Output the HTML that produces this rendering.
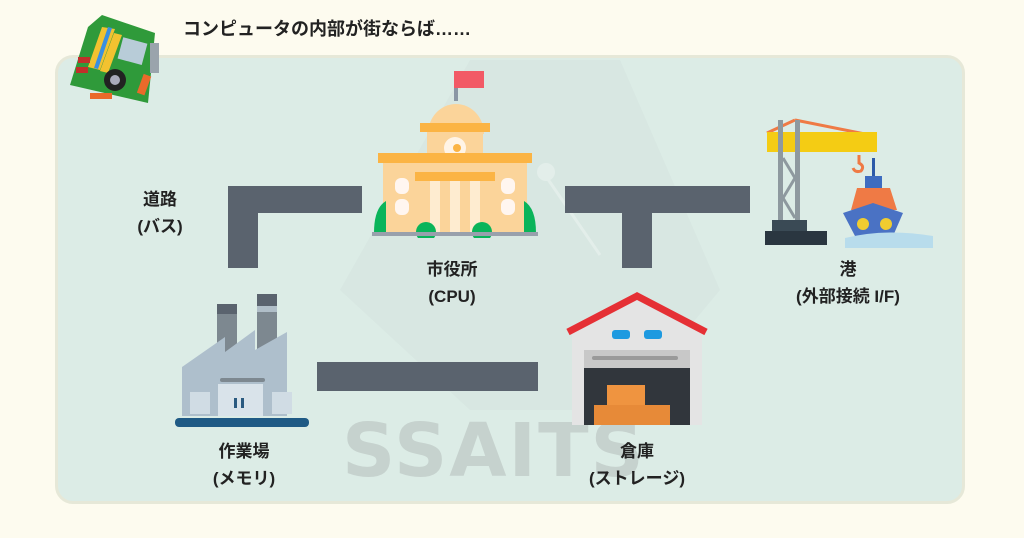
<!DOCTYPE html>
<html><head><meta charset="utf-8"><style>
body{margin:0;width:1024px;height:538px;background:#fdfbef;position:relative;overflow:hidden;font-family:"Liberation Sans","Noto Sans CJK JP",sans-serif}
.panel{position:absolute;left:55px;top:55px;width:910px;height:449px;background:#dcece6;border:3px solid #e6e8d8;border-radius:18px;box-sizing:border-box}
.r{position:absolute;background:#5a636e}
.t{position:absolute;font-weight:bold;font-size:17px;color:#222;text-align:center;line-height:27px;white-space:nowrap}
.wm{position:absolute;left:342px;top:408px;font-size:74px;color:#c6d2ce;letter-spacing:2px;font-family:"DejaVu Sans",sans-serif;font-weight:bold}
</style></head><body>
<div class="panel"></div>
<svg style="position:absolute;left:0;top:0" width="1024" height="538">
<polygon points="470,60 620,60 720,290 620,410 470,410 340,290" fill="#d3e3de" opacity="0.45"/>
<line x1="545" y1="175" x2="600" y2="255" stroke="#e3eeea" stroke-width="3"/>
<circle cx="546" cy="172" r="9" fill="#e3eeea"/>
</svg>
<div class="wm">SSAITS</div>
<div class="t" style="left:183px;top:16px;text-align:left;font-size:18px">コンピュータの内部が街ならば……</div>
<!-- motherboard -->
<svg style="position:absolute;left:70px;top:15px" width="100" height="90" viewBox="0 0 100 90">
<polygon points="32,0 85,18 78,88 0,70 18,12" fill="#2f9a3a"/>
<polygon points="32,12 45,14 30,55 18,52" fill="#f2c230"/>
<polygon points="38,12 42,13 28,54 24,53" fill="#3a8fe0"/>
<polygon points="44,18 52,20 38,58 30,56" fill="#f2c230"/>
<rect x="50" y="25" width="25" height="22" fill="#b8ccd8" transform="rotate(15 62 36)"/>
<circle cx="45" cy="65" r="11" fill="#222"/><circle cx="45" cy="65" r="5" fill="#aab"/>
<rect x="70" y="60" width="8" height="20" fill="#ea6a2a" transform="rotate(20 75 70)"/>
<rect x="20" y="78" width="22" height="6" fill="#ea6a2a"/>
<rect x="80" y="28" width="9" height="30" fill="#9aa4ac"/>
<rect x="8" y="42" width="12" height="6" fill="#c0302a"/><rect x="6" y="52" width="12" height="6" fill="#c0302a"/>
</svg>
<!-- roads -->
<div class="r" style="left:228px;top:186px;width:134px;height:27px"></div>
<div class="r" style="left:228px;top:186px;width:30px;height:82px"></div>
<div class="r" style="left:565px;top:186px;width:185px;height:27px"></div>
<div class="r" style="left:622px;top:186px;width:30px;height:82px"></div>
<div class="r" style="left:317px;top:362px;width:221px;height:29px"></div>
<!-- city hall -->
<svg style="position:absolute;left:370px;top:68px" width="170" height="170" viewBox="0 0 170 170">
<rect x="84" y="8" width="4" height="25" fill="#8a96a4"/>
<rect x="84" y="3" width="30" height="17" fill="#f25a66"/>
<path d="M58,66 A28,30 0 0 1 114,66 Z" fill="#fbd49a"/>
<rect x="57" y="63" width="56" height="32" fill="#fbd49a"/>
<rect x="50" y="55" width="70" height="9" fill="#fbb444"/>
<circle cx="85" cy="80" r="11" fill="#fff4e6"/><circle cx="87" cy="80" r="4" fill="#fbb444"/>
<rect x="8" y="85" width="154" height="10" fill="#fbb444"/>
<rect x="13" y="95" width="144" height="70" fill="#fbd49a"/>
<rect x="45" y="104" width="80" height="9" fill="#fbb444"/>
<rect x="60" y="113" width="10" height="52" fill="#feecd0"/><rect x="80" y="113" width="10" height="52" fill="#feecd0"/><rect x="100" y="113" width="10" height="52" fill="#feecd0"/>
<rect x="25" y="110" width="14" height="16" rx="6" fill="#fff6f0"/><rect x="25" y="131" width="14" height="16" rx="6" fill="#fff6f0"/>
<rect x="131" y="110" width="14" height="16" rx="6" fill="#fff6f0"/><rect x="131" y="131" width="14" height="16" rx="6" fill="#fff6f0"/>
<path d="M4,165 Q4,140 16,133 L16,165Z" fill="#0ab45a"/><path d="M166,165 Q166,140 154,133 L154,165Z" fill="#0ab45a"/>
<circle cx="56" cy="164" r="10" fill="#0ab45a"/><circle cx="112" cy="164" r="10" fill="#0ab45a"/>
<rect x="2" y="164" width="166" height="4" fill="#98a0ac"/>
</svg>
<!-- port -->
<svg style="position:absolute;left:765px;top:118px" width="170" height="130" viewBox="0 0 170 130">
<line x1="2" y1="15" x2="30" y2="2" stroke="#ef7a45" stroke-width="3"/><line x1="30" y1="2" x2="110" y2="18" stroke="#ef7a45" stroke-width="3"/>
<rect x="2" y="14" width="110" height="20" fill="#f4cc14"/>
<rect x="13" y="2" width="5" height="110" fill="#8e999f"/><rect x="30" y="2" width="5" height="110" fill="#8e999f"/>
<path d="M18,40 L30,60 L18,80 L30,100" stroke="#8e999f" stroke-width="3" fill="none"/>
<rect x="7" y="102" width="35" height="12" fill="#3a4a55"/><rect x="0" y="113" width="62" height="14" fill="#2a3640"/>
<path d="M94,37 L94,45 Q100,48 96,53 Q90,55 88,50" stroke="#ef7a45" stroke-width="3" fill="none"/>
<rect x="107" y="40" width="3" height="20" fill="#2c5aa8"/>
<rect x="100" y="58" width="17" height="12" fill="#3d6cc0"/>
<polygon points="92,70 125,70 132,92 86,92" fill="#ef7a45"/>
<polygon points="78,95 108,85 138,95 128,118 90,118" fill="#4a72c4"/>
<circle cx="98" cy="106" r="6" fill="#f0cc30"/><circle cx="121" cy="106" r="6" fill="#f0cc30"/>
<path d="M80,120 Q120,110 168,118 L168,130 L80,130Z" fill="#b8dcec"/>
</svg>
<!-- factory -->
<svg style="position:absolute;left:175px;top:292px" width="135" height="140" viewBox="0 0 135 140">
<rect x="42" y="12" width="20" height="60" fill="#7d8890"/><rect x="42" y="12" width="20" height="10" fill="#5a636e"/>
<rect x="82" y="2" width="20" height="70" fill="#7d8890"/><rect x="82" y="2" width="20" height="12" fill="#5a636e"/><rect x="82" y="14" width="20" height="6" fill="#b0bec8"/>
<polygon points="7,75 50,45 50,60 80,38 80,58 112,40 112,124 7,124" fill="#aebfcc"/>
<rect x="43" y="92" width="45" height="32" fill="#d9e3ea"/>
<rect x="15" y="100" width="20" height="22" fill="#d0dce4"/><rect x="97" y="100" width="20" height="22" fill="#d0dce4"/>
<rect x="45" y="86" width="45" height="4" rx="2" fill="#7d8890"/>
<rect x="59" y="106" width="3" height="10" fill="#2a5a80"/><rect x="66" y="106" width="3" height="10" fill="#2a5a80"/>
<rect x="0" y="126" width="134" height="9" rx="4" fill="#1f5a85"/>
</svg>
<!-- warehouse -->
<svg style="position:absolute;left:562px;top:290px" width="150" height="140" viewBox="0 0 150 140">
<polygon points="10,40 75,8 140,40 140,135 10,135" fill="#e4e4e4"/>
<polyline points="6,42 75,6 144,42" stroke="#e53035" stroke-width="7" fill="none"/>
<rect x="50" y="40" width="18" height="9" rx="3" fill="#1e9ae0"/><rect x="82" y="40" width="18" height="9" rx="3" fill="#1e9ae0"/>
<rect x="22" y="60" width="106" height="75" fill="#c8c8c8"/>
<rect x="30" y="66" width="86" height="4" rx="2" fill="#9a9a9a"/>
<rect x="22" y="78" width="106" height="57" fill="#31363c"/>
<rect x="45" y="95" width="38" height="20" fill="#ef9440"/>
<rect x="32" y="115" width="76" height="20" fill="#e78a38"/>
</svg>
<!-- labels -->
<div class="t" style="left:120px;top:186px;width:80px">道路<br>(バス)</div>
<div class="t" style="left:402px;top:256px;width:100px">市役所<br>(CPU)</div>
<div class="t" style="left:768px;top:256px;width:160px">港<br>(外部接続 I/F)</div>
<div class="t" style="left:194px;top:438px;width:100px">作業場<br>(メモリ)</div>
<div class="t" style="left:567px;top:438px;width:140px">倉庫<br>(ストレージ)</div>
</body></html>
